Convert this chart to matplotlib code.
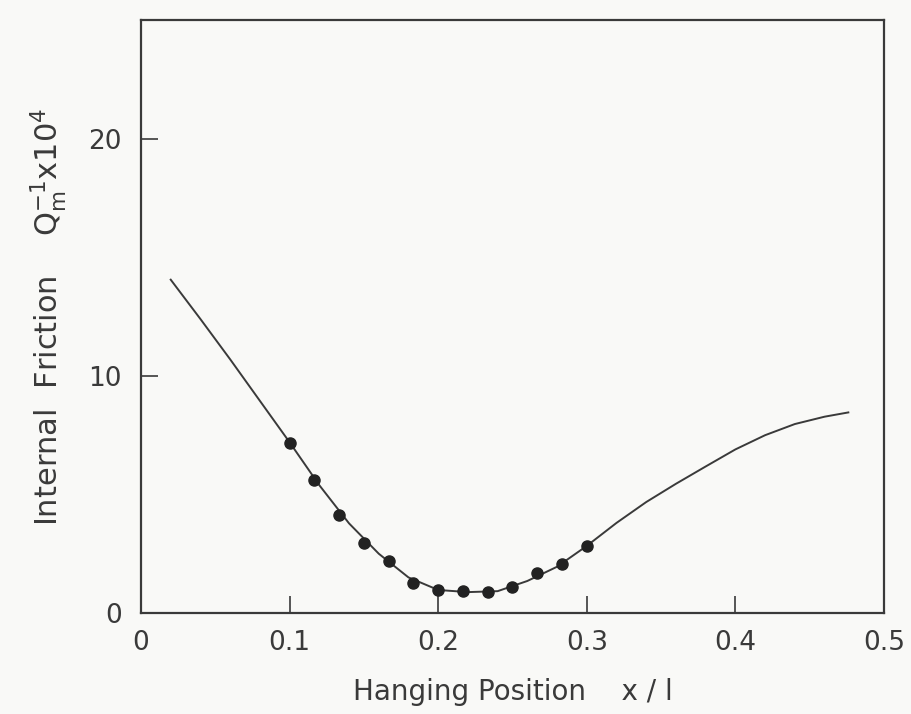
import matplotlib
matplotlib.use("Agg")
import matplotlib.pyplot as plt

# measured points (hanging position x/l, internal friction Q^-1 x 10^4)
pos_pts = [0.1, 0.1167, 0.1333, 0.15, 0.1667, 0.1833, 0.2,
           0.2167, 0.2333, 0.25, 0.2667, 0.2833, 0.3]
q_pts = [7.17, 5.59, 4.12, 2.95, 2.18, 1.25, 0.97,
         0.92, 0.87, 1.10, 1.69, 2.05, 2.83]

# calculated curve
pos_curve = [0.02, 0.04, 0.06, 0.08, 0.1, 0.12, 0.14, 0.16, 0.18, 0.2,
             0.22, 0.24, 0.26, 0.28, 0.3, 0.32, 0.34, 0.36, 0.38, 0.4,
             0.42, 0.44, 0.46, 0.476]
q_curve = [14.06, 12.4, 10.7, 8.95, 7.2, 5.39, 3.78, 2.5, 1.5, 0.97,
           0.88, 0.92, 1.35, 1.95, 2.83, 3.8, 4.68, 5.45, 6.18, 6.9,
           7.5, 7.97, 8.28, 8.46]

xticks = [0, 0.1, 0.2, 0.3, 0.4, 0.5]
xlabels = ["0", "0.1", "0.2", "0.3", "0.4", "0.5"]
yticks = [0, 10, 20]

ink = "#3a3a3a"
plt.rcParams["font.family"] = ["DejaVu Sans"]

fig = plt.figure(figsize=(9.12, 7.14), dpi=100, facecolor="#f9f9f7")
ax = fig.add_axes([0.1546, 0.1415, 0.8147, 0.830])
ax.set_facecolor("#f9f9f7")

ax.plot(pos_curve, q_curve, color=ink, lw=1.4)
ax.plot(pos_pts, q_pts, "o", color="#222222", ms=8)

ax.set_xlim(0, 0.5)
ax.set_ylim(0, 25)
ax.set_xticks(xticks)
ax.set_xticklabels(xlabels)
ax.set_yticks(yticks)
ax.tick_params(axis="x", direction="in", length=12, width=1.2, pad=12,
               labelsize=19, colors=ink)
ax.tick_params(axis="y", direction="in", length=12, width=1.2, pad=14,
               labelsize=19, colors=ink)
for s in ax.spines.values():
    s.set_color(ink)
    s.set_linewidth(1.6)

ax.set_xlabel("Hanging Position    x / l", fontsize=20, color=ink, labelpad=16)
ax.set_ylabel("Internal  Friction    $\\mathregular{Q_m^{-1}}$x10$^\\mathregular{4}$",
              fontsize=22, color=ink, labelpad=14)

fig.savefig("out.png", dpi=100, facecolor=fig.get_facecolor())
